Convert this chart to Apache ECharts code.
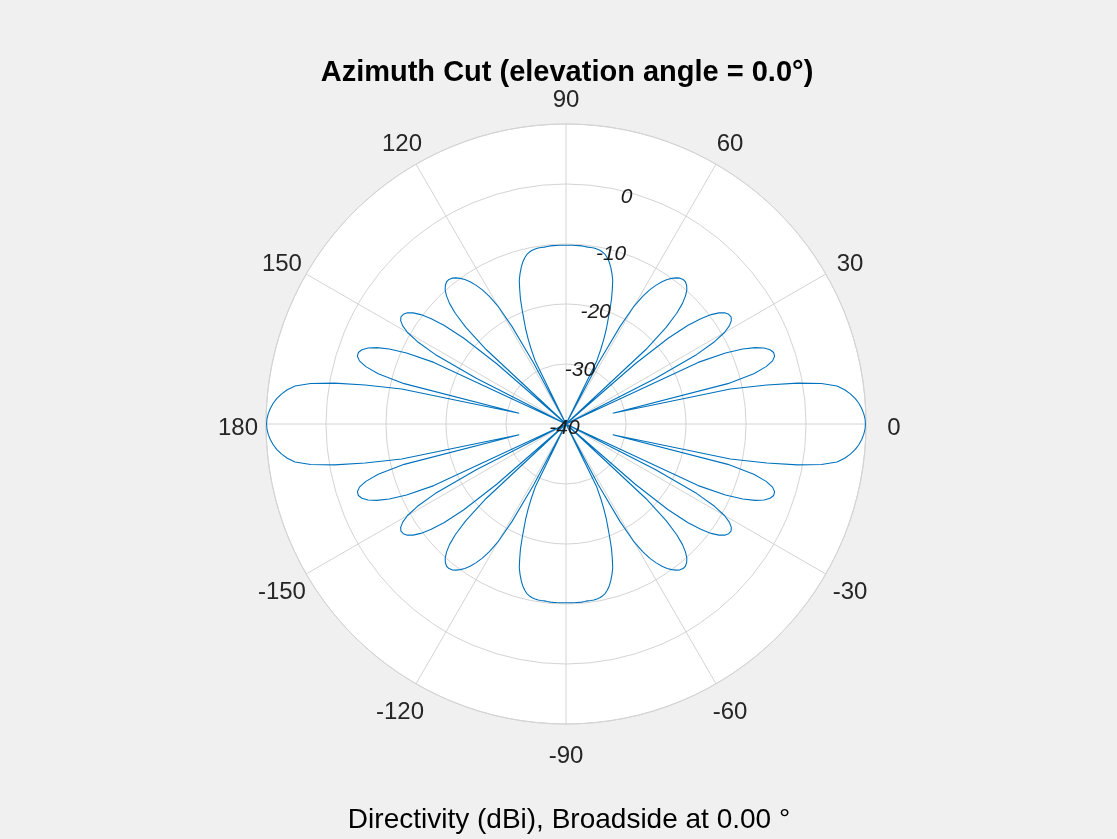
<!DOCTYPE html>
<html>
<head>
<meta charset="utf-8">
<script src="https://cdn.jsdelivr.net/npm/echarts@6/dist/echarts.min.js"></script>
<style>
html, body { margin: 0; padding: 0; background: #f0f0f0; }
#chart { width: 1117px; height: 839px; }
</style>
</head>
<body>
<div id="chart"></div>
<script>
// Azimuth angles (degrees), sampled every 1 degree
const azimuthDeg = [
-180,-179,-178,-177,-176,-175,-174,-173,-172,-171,-170,-169,-168,-167,-166,-165,-164,-163,-162,-161,
-160,-159,-158,-157,-156,-155,-154,-153,-152,-151,-150,-149,-148,-147,-146,-145,-144,-143,-142,-141,
-140,-139,-138,-137,-136,-135,-134,-133,-132,-131,-130,-129,-128,-127,-126,-125,-124,-123,-122,-121,
-120,-119,-118,-117,-116,-115,-114,-113,-112,-111,-110,-109,-108,-107,-106,-105,-104,-103,-102,-101,
-100,-99,-98,-97,-96,-95,-94,-93,-92,-91,-90,-89,-88,-87,-86,-85,-84,-83,-82,-81,
-80,-79,-78,-77,-76,-75,-74,-73,-72,-71,-70,-69,-68,-67,-66,-65,-64,-63,-62,-61,
-60,-59,-58,-57,-56,-55,-54,-53,-52,-51,-50,-49,-48,-47,-46,-45,-44,-43,-42,-41,
-40,-39,-38,-37,-36,-35,-34,-33,-32,-31,-30,-29,-28,-27,-26,-25,-24,-23,-22,-21,
-20,-19,-18,-17,-16,-15,-14,-13,-12,-11,-10,-9,-8,-7,-6,-5,-4,-3,-2,-1,
0,1,2,3,4,5,6,7,8,9,10,11,12,13,14,15,16,17,18,19,
20,21,22,23,24,25,26,27,28,29,30,31,32,33,34,35,36,37,38,39,
40,41,42,43,44,45,46,47,48,49,50,51,52,53,54,55,56,57,58,59,
60,61,62,63,64,65,66,67,68,69,70,71,72,73,74,75,76,77,78,79,
80,81,82,83,84,85,86,87,88,89,90,91,92,93,94,95,96,97,98,99,
100,101,102,103,104,105,106,107,108,109,110,111,112,113,114,115,116,117,118,119,
120,121,122,123,124,125,126,127,128,129,130,131,132,133,134,135,136,137,138,139,
140,141,142,143,144,145,146,147,148,149,150,151,152,153,154,155,156,157,158,159,
160,161,162,163,164,165,166,167,168,169,170,171,172,173,174,175,176,177,178,179,
180
];

// Directivity (dBi) at each azimuth (clipped at -40)
const directivityDbi = [
// -180 .. -90
9.9, 9.85, 9.65, 9.35, 8.95, 8.4, 7.7, 6.8, 5.6, 3.1,
-0.8, -5.9, -12.0, -32.0, -12.2, -7.6, -5.3, -4.0, -3.45, -3.4,
-3.8, -4.65, -6.0, -8.0, -10.9, -15.7, -40, -23.3, -15.3, -11.7,
-9.5, -8.25, -7.5, -7.2, -7.3, -7.7, -8.5, -9.7, -11.5, -13.9,
-17.7, -24.7, -40, -21.8, -16.8, -13.9, -12.05, -10.8, -9.9, -9.35,
-9.05, -9.0, -9.15, -9.5, -10.0, -10.6, -11.4, -12.4, -13.6, -15.2,
-17.3, -21.4, -28.5, -40, -28.3, -26.3, -24.5, -22.8, -21.3, -19.6,
-17.8, -16.3, -14.8, -13.8, -12.9, -12.1, -11.5, -11.0, -10.7, -10.5,
-10.4, -10.3, -10.3, -10.3, -10.25, -10.2, -10.2, -10.2, -10.2, -10.2,
-10.2,
// -89 .. 0
-10.2, -10.2, -10.2, -10.2, -10.2, -10.25, -10.3, -10.3, -10.3, -10.4,
-10.5, -10.7, -11.0, -11.5, -12.1, -12.9, -13.8, -14.8, -16.3, -17.8,
-19.6, -21.3, -22.8, -24.5, -26.3, -28.3, -40, -28.5, -21.4, -17.3,
-15.2, -13.6, -12.4, -11.4, -10.6, -10.0, -9.5, -9.15, -9.0, -9.05,
-9.35, -9.9, -10.8, -12.05, -13.9, -16.8, -21.8, -40, -24.7, -17.7,
-13.9, -11.5, -9.7, -8.5, -7.7, -7.3, -7.2, -7.5, -8.25, -9.5,
-11.7, -15.3, -23.3, -40, -15.7, -10.9, -8.0, -6.0, -4.65, -3.8,
-3.4, -3.45, -4.0, -5.3, -7.6, -12.2, -32.0, -12.0, -5.9, -0.8,
3.1, 5.6, 6.8, 7.7, 8.4, 8.95, 9.35, 9.65, 9.85, 9.9,
// 1 .. 90
9.85, 9.65, 9.35, 8.95, 8.4, 7.7, 6.8, 5.6, 3.1, -0.8,
-5.9, -12.0, -32.0, -12.2, -7.6, -5.3, -4.0, -3.45, -3.4, -3.8,
-4.65, -6.0, -8.0, -10.9, -15.7, -40, -23.3, -15.3, -11.7, -9.5,
-8.25, -7.5, -7.2, -7.3, -7.7, -8.5, -9.7, -11.5, -13.9, -17.7,
-24.7, -40, -21.8, -16.8, -13.9, -12.05, -10.8, -9.9, -9.35, -9.05,
-9.0, -9.15, -9.5, -10.0, -10.6, -11.4, -12.4, -13.6, -15.2, -17.3,
-21.4, -28.5, -40, -28.3, -26.3, -24.5, -22.8, -21.3, -19.6, -17.8,
-16.3, -14.8, -13.8, -12.9, -12.1, -11.5, -11.0, -10.7, -10.5, -10.4,
-10.3, -10.3, -10.3, -10.25, -10.2, -10.2, -10.2, -10.2, -10.2, -10.2,
// 91 .. 180
-10.2, -10.2, -10.2, -10.2, -10.2, -10.25, -10.3, -10.3, -10.3, -10.4,
-10.5, -10.7, -11.0, -11.5, -12.1, -12.9, -13.8, -14.8, -16.3, -17.8,
-19.6, -21.3, -22.8, -24.5, -26.3, -28.3, -40, -28.5, -21.4, -17.3,
-15.2, -13.6, -12.4, -11.4, -10.6, -10.0, -9.5, -9.15, -9.0, -9.05,
-9.35, -9.9, -10.8, -12.05, -13.9, -16.8, -21.8, -40, -24.7, -17.7,
-13.9, -11.5, -9.7, -8.5, -7.7, -7.3, -7.2, -7.5, -8.25, -9.5,
-11.7, -15.3, -23.3, -40, -15.7, -10.9, -8.0, -6.0, -4.65, -3.8,
-3.4, -3.45, -4.0, -5.3, -7.6, -12.2, -32.0, -12.0, -5.9, -0.8,
3.1, 5.6, 6.8, 7.7, 8.4, 8.95, 9.35, 9.65, 9.85, 9.9
];

// Axis definitions
const radialMin = -40, radialMax = 10, radialStep = 10;
const radialTickLabels = ['-40', '-30', '-20', '-10', '0'];
const angleMin = -180, angleMax = 180, angleStep = 30;
const titleText = 'Azimuth Cut (elevation angle = 0.0°)';
const footerText = 'Directivity (dBi), Broadside at 0.00 °';

const seriesData = azimuthDeg.map((a, i) => [directivityDbi[i], a]);

const FONT = '"Liberation Sans", Arial, Helvetica, sans-serif';
const GRID = '#d4d4d4';
const TEXT = '#262626';
const CENTER = [566, 424];
const RADIUS = 300;
const ANGLE_FONT = 24;
const LABEL_MARGIN = -16;   // anchor inside the ring, labels pushed out by padding
const LABEL_DIST = 28;      // distance of label centre outside the ring
const LABEL_DROP = 4;       // small downward bias of label centres

// Build per-label padding so every angle label is centred on a circle
const measureCtx = document.createElement('canvas').getContext('2d');
measureCtx.font = ANGLE_FONT + 'px ' + FONT;
function angleLabelText(v) { return v === -180 ? '180' : String(v); }
function labelPadding(v) {
  const th = v * Math.PI / 180;
  const c = Math.cos(th), s = Math.sin(th);
  const rm = RADIUS + LABEL_MARGIN;
  const alignH = Math.abs(rm * c) / RADIUS < 0.3 ? 'center' : (c > 0 ? 'left' : 'right');
  const alignV = Math.abs(rm * s) / RADIUS < 0.3 ? 'middle' : (s > 0 ? 'bottom' : 'top');
  const dx = (RADIUS + LABEL_DIST - rm) * c;
  const dy = -(RADIUS + LABEL_DIST - rm) * s + LABEL_DROP;
  const w = measureCtx.measureText(angleLabelText(v)).width;
  const h = ANGLE_FONT;
  let pt = 0, pr = 0, pb = 0, pl = 0;
  if (alignH === 'left') pl = Math.max(0, dx - w / 2);
  else if (alignH === 'right') pr = Math.max(0, -dx - w / 2);
  else if (dx > 0) pl = 2 * dx; else pr = -2 * dx;
  if (alignV === 'bottom') pb = Math.max(0, -dy - h / 2);
  else if (alignV === 'top') pt = Math.max(0, dy - h / 2);
  else if (dy > 0) pt = 2 * dy; else pb = -2 * dy;
  return [pt, pr, pb, pl];
}
const angleRich = {};
for (let v = angleMin; v <= angleMax; v += angleStep) {
  const key = 'a' + (v + 180);
  angleRich[key] = { padding: labelPadding(v), color: TEXT, fontFamily: FONT, fontSize: ANGLE_FONT };
}

const chart = echarts.init(document.getElementById('chart'), null, { renderer: 'canvas' });
chart.setOption({
  backgroundColor: '#f0f0f0',
  animation: false,
  title: [
    { text: titleText, left: 562, textAlign: 'center', top: 53,
      textStyle: { fontFamily: FONT, fontSize: 29, fontWeight: 'bold', color: '#000' } },
    { text: footerText, left: 564, textAlign: 'center', top: 801,
      textStyle: { fontFamily: FONT, fontSize: 28, fontWeight: 'normal', color: '#000' } }
  ],
  polar: [
    { center: CENTER, radius: RADIUS },
    { center: CENTER, radius: RADIUS }
  ],
  angleAxis: [
    {
      polarIndex: 0, type: 'value', min: angleMin, max: angleMax, interval: angleStep,
      startAngle: 180, clockwise: false, z: 2,
      axisLine: { show: true, lineStyle: { color: GRID, width: 1 } },
      axisTick: { show: false },
      splitLine: { show: true, lineStyle: { color: GRID, width: 1 } },
      splitArea: { show: false },
      axisLabel: {
        show: true, margin: LABEL_MARGIN, color: TEXT, fontFamily: FONT, fontSize: ANGLE_FONT,
        formatter: v => '{a' + (v + 180) + '|' + angleLabelText(v) + '}',
        rich: angleRich
      }
    },
    {
      polarIndex: 1, type: 'value', min: 0, max: 360, interval: 90, startAngle: 75, z: 0,
      axisLine: { show: false }, axisTick: { show: false }, axisLabel: { show: false },
      splitLine: { show: false },
      splitArea: { show: true, areaStyle: { color: ['#ffffff'] } }
    }
  ],
  radiusAxis: [
    {
      polarIndex: 0, type: 'value', min: radialMin, max: radialMax, interval: radialStep, z: 2,
      axisLine: { show: false }, axisTick: { show: false }, axisLabel: { show: false },
      splitLine: { show: true, lineStyle: { color: GRID, width: 1 } }
    },
    {
      polarIndex: 1, type: 'value', min: radialMin, max: radialMax, interval: radialStep, z: 6,
      axisLine: { show: false }, axisTick: { show: false }, splitLine: { show: false },
      axisLabel: {
        show: true, margin: 0, align: 'center', verticalAlign: 'middle',
        color: '#1a1a1a', fontFamily: FONT, fontSize: 21, fontStyle: 'italic',
        formatter: v => {
          const i = Math.round((v - radialMin) / radialStep);
          return radialTickLabels[i] ? '{r|' + radialTickLabels[i] + '}' : '';
        },
        rich: {
          r: { padding: [9, 3, 0, 0], color: '#1a1a1a', fontFamily: FONT, fontSize: 21, fontStyle: 'italic' }
        }
      }
    }
  ],
  series: [{
    type: 'line',
    coordinateSystem: 'polar',
    polarIndex: 0,
    data: seriesData,
    showSymbol: false,
    symbol: 'none',
    smooth: false,
    lineStyle: { color: '#0072BD', width: 1.1 },
    z: 3
  }]
});
</script>
</body>
</html>
